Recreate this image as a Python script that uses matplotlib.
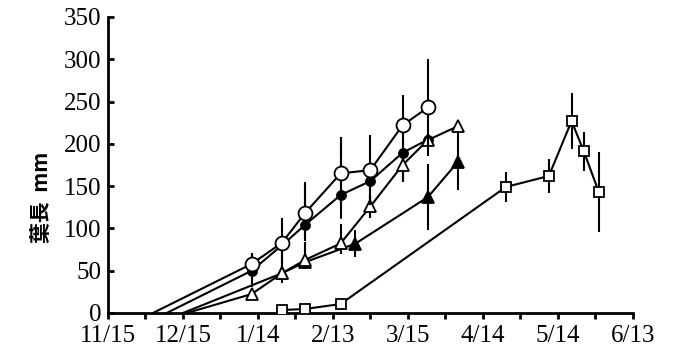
import matplotlib
matplotlib.use("Agg")
import matplotlib.pyplot as plt

# days counted from 11/15
tick_days = [0, 30, 60, 90, 120, 150, 180, 210]
tick_labels = ['11/15', '12/15', '1/14', '2/13', '3/15', '4/14', '5/14', '6/13']

# open circles
oc_start = 18
oc_days = [57.5, 69.6, 78.8, 93.1, 105, 117.9, 128]
oc_len = [58, 83, 118, 165, 169, 222, 243]
oc_err = [13, 29, 33, 43, 41, 36, 57]

# filled circles
fc_start = 23.5
fc_days = [57.5, 69.6, 78.8, 93.1, 105, 117.9, 128]
fc_len = [50, 80, 104, 139.5, 156, 189.5, 205]
fc_err = [19, 20, 51, 65, 30, 35, 0]

# open triangles
ot_start = 31.6
ot_days = [57.5, 69.6, 78.8, 93.1, 105, 117.9, 128, 140.1]
ot_len = [22.4, 47, 62.6, 82.3, 126, 175, 204.5, 221]
ot_err = [5, 12, 10, 12, 14, 20, 0, 0]

# filled triangles
ft_start = 30
ft_days = [69.6, 78.8, 99, 128, 140.1]
ft_len = [47, 60, 82, 137, 179]
ft_err = [0, 0, 16, 39, 34]

# open squares
sq_days = [69.6, 78.8, 93.1, 159.2, 176.4, 185.5, 190.4, 196.4]
sq_len = [3.5, 4.7, 10.6, 149, 162, 227, 191, 143]
sq_err = [0, 0, 0, 18, 20, 33, 23, 47]

fig = plt.figure(figsize=(6.79, 3.6), dpi=100)
ax = fig.add_axes([0.159, 0.1306, 0.773, 0.8222])

lw = 1.5


def series(start, days, vals, err, marker, face, ms, ebls='-', z=2):
    if start is not None:
        xs = [start] + days
        ys = [0] + vals
    else:
        xs, ys = days, vals
    ax.plot(xs, ys, color='k', lw=lw, zorder=z)
    eb = ax.errorbar(days, vals, yerr=err, fmt=marker, color='k', mfc=face,
                     mec='k', mew=1.3, ms=ms, ecolor='k', elinewidth=lw,
                     capsize=0, zorder=z + 0.5)
    for c in eb[2]:
        c.set_linestyle(ebls)
        c.set_zorder(z)


series(None, sq_days, sq_len, sq_err, 's', 'white', 7, z=2)
series(ft_start, ft_days, ft_len, ft_err, '^', 'black', 8.5, z=3)
series(fc_start, fc_days, fc_len, fc_err, 'o', 'black', 6.5,
       ebls=(0, (5, 2.5)), z=4)
series(ot_start, ot_days, ot_len, ot_err, '^', 'white', 8.5, z=5)
series(oc_start, oc_days, oc_len, oc_err, 'o', 'white', 10, z=6)

ax.set_xlim(0, 210)
ax.set_ylim(0, 350)
ax.set_xticks(tick_days)
ax.set_xticklabels(tick_labels)
ax.set_xticks(range(15, 210, 30), minor=True)
ax.set_yticks(range(0, 351, 50))

for s in ['top', 'right']:
    ax.spines[s].set_visible(False)
for s in ['left', 'bottom']:
    ax.spines[s].set_linewidth(2)

ax.tick_params(axis='x', which='both', direction='out', length=4, width=2, pad=5)
ax.tick_params(axis='y', direction='in', length=4, width=2, pad=5)
for lab in ax.get_xticklabels() + ax.get_yticklabels():
    lab.set_fontfamily('Liberation Serif')
    lab.set_fontsize(18)

fig.text(41 / 679, 1 - 197 / 360, '葉長  mm', rotation=90, ha='center', va='center',
         fontsize=15, fontweight='bold', family=['Noto Sans CJK JP', 'DejaVu Sans'])

fig.savefig('out.png', dpi=100)
